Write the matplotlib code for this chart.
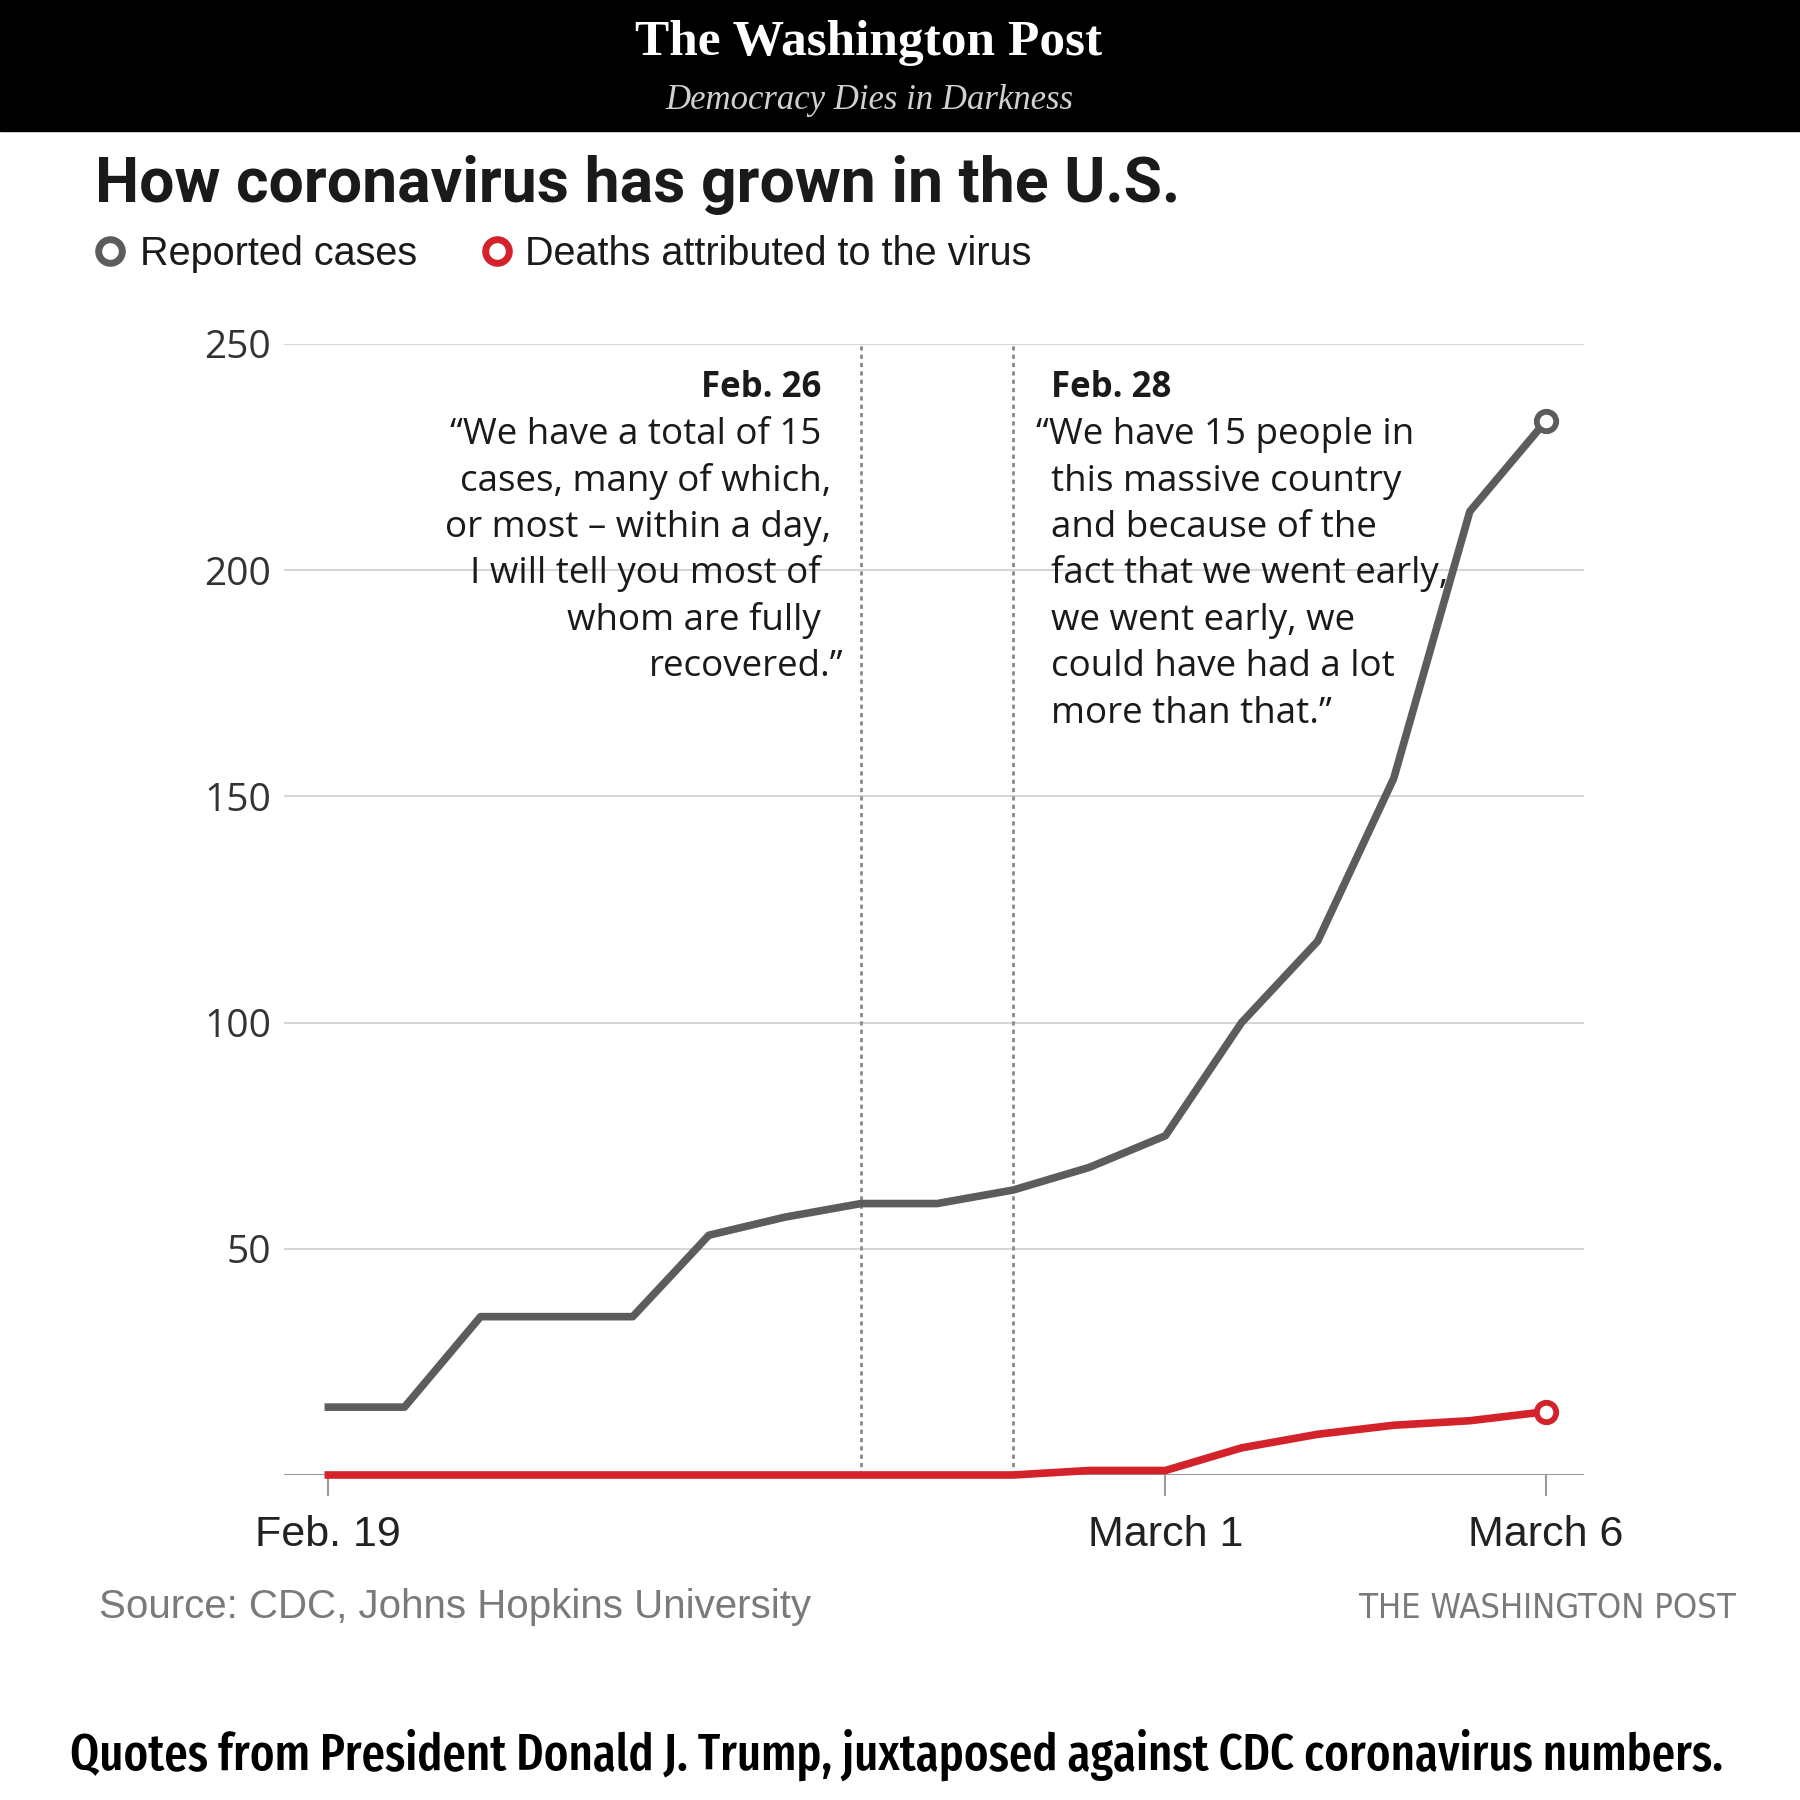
import matplotlib
matplotlib.use("Agg")
import matplotlib.pyplot as plt
from matplotlib.patches import Rectangle
from matplotlib.lines import Line2D
from matplotlib import font_manager as fm

# ---------------- data ----------------
day_offsets = list(range(17))  # Feb 19 .. March 6 (days since Feb 19)
cases = [15, 15, 35, 35, 35, 53, 57, 60, 60, 63, 68, 75, 100, 118, 154, 213, 233]
deaths = [0, 0, 0, 0, 0, 0, 0, 0, 0, 0, 1, 1, 6, 9, 11, 12, 14]
xtick_days = [0, 11, 16]
xtick_labels = ["Feb. 19", "March 1", "March 6"]
ytick_values = [50, 100, 150, 200, 250]
quote_days = [7, 9]  # Feb. 26, Feb. 28
quote1_date = "Feb. 26"
quote1_lines = ["\u201cWe have a total of 15", "cases, many of which,",
                "or most \u2013 within a day,", "I will tell you most of",
                "whom are fully", "recovered.\u201d"]
quote2_date = "Feb. 28"
quote2_lines = ["\u201cWe have 15 people in", "this massive country",
                "and because of the", "fact that we went early,",
                "we went early, we", "could have had a lot",
                "more than that.\u201d"]
title = "How coronavirus has grown in the U.S."
legend_labels = ["Reported cases", "Deaths attributed to the virus"]
source = "Source: CDC, Johns Hopkins University"
credit = "THE WASHINGTON POST"
caption = "Quotes from President Donald J. Trump, juxtaposed against CDC coronavirus numbers."

# ---------------- style ----------------
W = H = 1800
CASE_C = "#5c5c5c"
DEATH_C = "#d3222a"
TXT = "#1a1a1a"
GRAYTXT = "#7a7a7a"
SANS = ["Roboto", "DejaVu Sans"]
BODY = ["Liberation Sans", "DejaVu Sans"]
QUOTE = ["Open Sans", "Liberation Sans", "DejaVu Sans"]

# look for installed condensed sans faces (for the caption / credit)
cands = []
for f in fm.fontManager.ttflist:
    tag = (f.name + " " + f.fname).lower()
    st = str(f.stretch).lower()
    if "mono" in tag or "serif" in tag.replace("sans", "") or f.style != "normal":
        continue
    if "extracondensed" in tag.replace(" ", "").replace("-", "") or st in ("extra-condensed", "ultra-condensed"):
        rank = 0
    elif "semicondensed" in tag.replace(" ", "").replace("-", "") or st == "semi-condensed":
        rank = 2
    elif "condensed" in tag or "narrow" in tag or st == "condensed":
        rank = 1
    else:
        continue
    w = f.weight if isinstance(f.weight, int) else {"normal": 400, "regular": 400,
                                                      "medium": 500, "bold": 700}.get(str(f.weight), 400)
    cands.append((rank, w, f.fname))

def pick(weight_target, max_rank=2):
    best = None
    for rank, w, p in cands:
        if rank > max_rank:
            continue
        key = (rank, abs(w - weight_target))
        if best is None or key < best[0]:
            best = (key, p)
    return best[1] if best else None

cap_path = pick(500)
cred_path = None
best = None
for rank, w, p in cands:
    key = (abs(rank - 1), abs(w - 400))
    if best is None or key < best:
        best, cred_path = key, p

fig = plt.figure(figsize=(18, 18), dpi=100)
fig.patch.set_facecolor("white")

def fy(ypx):
    return 1 - ypx / H

def fx(xpx):
    return xpx / W

# header
fig.add_artist(Rectangle((0, fy(131)), 1, 131 / H, transform=fig.transFigure,
                         color="black", zorder=0))
fig.text(fx(869), fy(55), "The Washington Post", color="white", ha="center",
         va="baseline", fontsize=37, fontweight="bold",
         family=["Liberation Serif", "DejaVu Serif"])
fig.text(fx(869), fy(109), "Democracy Dies in Darkness", color="#d0d0d0",
         ha="center", va="baseline", fontsize=25, style="italic",
         family=["Liberation Serif", "DejaVu Serif"])

# title
fig.text(fx(95), fy(202), title, ha="left", va="baseline", fontsize=45,
         fontweight="bold", color=TXT, family=SANS)

# legend
for mx, tx, lab, col in [(110, 140, legend_labels[0], CASE_C),
                         (497, 525, legend_labels[1], DEATH_C)]:
    fig.add_artist(Line2D([fx(mx)], [fy(251)], transform=fig.transFigure,
                          marker="o", markersize=17, markerfacecolor="white",
                          markeredgecolor=col, markeredgewidth=5, linestyle="none"))
    fig.text(fx(tx), fy(265), lab, ha="left", va="baseline", fontsize=28.5,
             color=TXT, family=BODY)

# axes
x0, x1 = -0.588, 16.50
ax = fig.add_axes([fx(283.6), fy(1475), fx(1584) - fx(283.6), (1475 - 344) / H])
ax.set_xlim(x0, x1)
ax.set_ylim(0, 250)
for s in ax.spines.values():
    s.set_visible(False)
ax.set_facecolor("none")
ax.set_yticks(ytick_values)
ax.set_yticklabels([str(v) for v in ytick_values], family=QUOTE, fontsize=28,
                   color="#333333")
ax.tick_params(axis="y", length=0, pad=9)
ax.yaxis.grid(True, color="#d6d6d6", linewidth=1.5)
ax.set_axisbelow(True)
ax.axhline(0, color="#9a9a9a", linewidth=2.2, zorder=1)
ax.set_xticks(xtick_days)
ax.set_xticklabels(xtick_labels, family=BODY, fontsize=31, color="#222222")
ax.tick_params(axis="x", length=15, width=1.5, color="#9a9a9a", pad=14)

for d in quote_days:
    ax.axvline(d, ymin=0, ymax=1, color="#8a8a8a", linewidth=2,
               linestyle=(0, (1.5, 1.5)), zorder=1)

ax.plot(day_offsets, cases, color=CASE_C, linewidth=5.5, zorder=3, clip_on=False)
ax.plot(day_offsets, deaths, color=DEATH_C, linewidth=5.5, zorder=4, clip_on=False)
ax.plot([day_offsets[-1]], [cases[-1]], marker="o", markersize=14,
        markerfacecolor="white", markeredgecolor=CASE_C, markeredgewidth=4.2,
        zorder=5, clip_on=False)
ax.plot([day_offsets[-1]], [deaths[-1]], marker="o", markersize=14,
        markerfacecolor="white", markeredgecolor=DEATH_C, markeredgewidth=4.2,
        zorder=5, clip_on=False)

# quotes (figure coordinates)
base = [444, 491, 537, 583, 630, 676, 723]
QS = 26.5
fig.text(fx(821), fy(397), quote1_date, ha="right", va="baseline", fontsize=25,
         fontweight="bold", color=TXT, family=QUOTE)
for i, line in enumerate(quote1_lines):
    hang = 0
    if line.endswith(","):
        hang = 10
    elif line.endswith("\u201d"):
        hang = 22
    fig.text(fx(821 + hang), fy(base[i]), line, ha="right", va="baseline",
             fontsize=QS, color=TXT, family=QUOTE)
fig.text(fx(1051), fy(397), quote2_date, ha="left", va="baseline", fontsize=25,
         fontweight="bold", color=TXT, family=QUOTE)
for i, line in enumerate(quote2_lines):
    hang = -15 if line.startswith("\u201c") else 0
    fig.text(fx(1051 + hang), fy(base[i]), line, ha="left", va="baseline",
             fontsize=QS, color=TXT, family=QUOTE)

# source / credit
fig.text(fx(99), fy(1618), source, ha="left", va="baseline", fontsize=29,
         color=GRAYTXT, family=BODY)
if cred_path:
    credit_t = fig.text(fx(1736), fy(1618), credit, ha="right", va="baseline",
                        color=GRAYTXT,
                        fontproperties=fm.FontProperties(fname=cred_path, size=27))
else:
    credit_t = fig.text(fx(1736), fy(1618), credit, ha="right", va="baseline",
                        fontsize=22.5, color=GRAYTXT, family=BODY)

# caption
if cap_path:
    cap_fp = fm.FontProperties(fname=cap_path, size=46)
else:
    cap_fp = fm.FontProperties(family=["Roboto", "DejaVu Sans"], weight="medium", size=44)
cap_t = fig.text(fx(897), fy(1770), caption, ha="center", va="baseline",
                 color="black", fontproperties=cap_fp)

# fit caption and credit widths to the reference
renderer = fig.canvas.get_renderer()
def fit(t, target_px, maxsize):
    wpx = t.get_window_extent(renderer).width
    t.set_fontsize(min(maxsize, t.get_fontsize() * target_px / wpx))
fit(cap_t, 1653, 66)
fit(credit_t, 378, 27)

fig.savefig("out.png", dpi=100, facecolor="white")
